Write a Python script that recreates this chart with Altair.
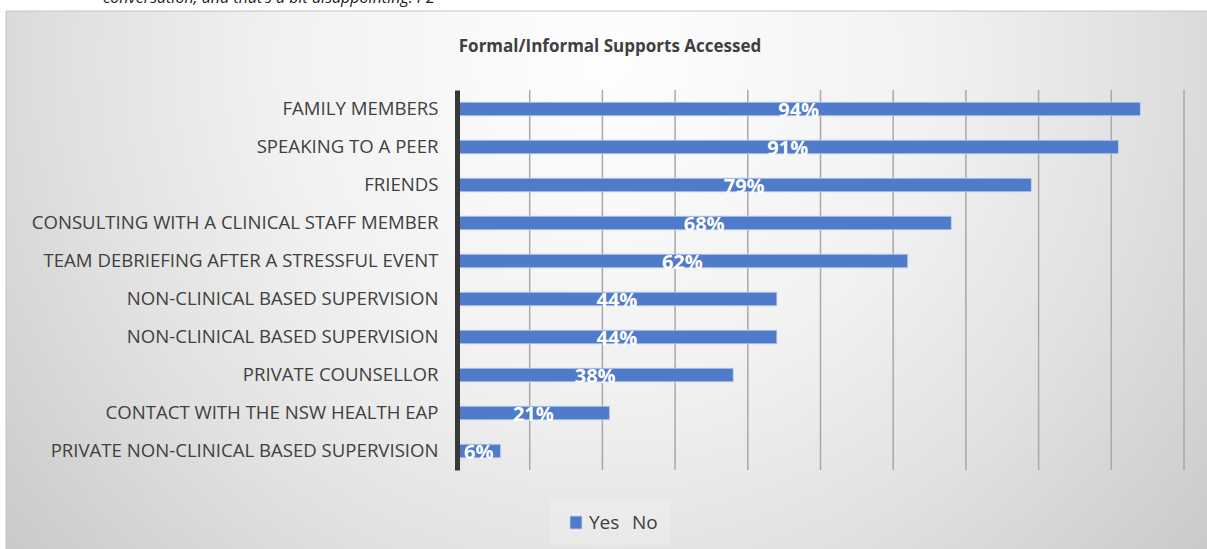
import json
import altair as alt
import pandas as pd

# ---- data ----
categories = [
    "FAMILY MEMBERS\u00a0",
    "SPEAKING TO A PEER",
    "FRIENDS",
    "CONSULTING WITH A CLINICAL  STAFF MEMBER",
    "TEAM DEBRIEFING AFTER A STRESSFUL EVENT",
    "NON-CLINICAL BASED SUPERVISION",
    "NON-CLINICAL BASED SUPERVISION",
    "PRIVATE COUNSELLOR",
    "CONTACT WITH THE NSW HEALTH EAP",
    "PRIVATE NON-CLINICAL BASED SUPERVISION",
]
yes_values = [94, 91, 79, 68, 62, 44, 44, 38, 21, 6]
grid_ticks = [10, 20, 30, 40, 50, 60, 70, 80, 90, 100]
series_names = ["Yes", "No"]
title_text = "Formal/Informal Supports Accessed"
caption_text = "conversation, and that\u2019s a bit disappointing. P2"

df = pd.DataFrame({
    "key": [str(i) for i in range(len(categories))],
    "value": yes_values,
})
grid_df = pd.DataFrame({"tick": grid_ticks})

BLUE = "#4f7bca"
TEXT = "#404040"
FONT = "Open Sans"

W, H = 727, 380
PAD = {"left": 457, "top": 90, "right": 23, "bottom": 79}

label_expr = json.dumps([c.replace("  ", " ") for c in categories]) + "[toNumber(datum.value)]"

one = pd.DataFrame({"a": [0]})
xscale = alt.Scale(domain=[0, 100], nice=False)

# background panel with soft radial gradient
bg = alt.Chart(one).mark_rect(
    color=alt.RadialGradient(
        gradient="radial",
        x1=0.5, y1=0.03, r1=0,
        x2=0.5, y2=0.03, r2=0.6,
        stops=[
            alt.GradientStop(offset=0, color="#fefefe"),
            alt.GradientStop(offset=0.33, color="#f2f2f2"),
            alt.GradientStop(offset=0.55, color="#e1e1e1"),
            alt.GradientStop(offset=0.83, color="#c7c7c7"),
            alt.GradientStop(offset=1, color="#bfbfbf"),
        ],
    ),
    stroke="#c4c4c4",
    strokeWidth=1,
).encode(
    x=alt.value(-451), x2=alt.value(752),
    y=alt.value(-79), y2=alt.value(-79 + 3 * 538),
)

caption = alt.Chart(one).mark_text(
    text=caption_text, font=FONT, fontSize=16, fontStyle="italic",
    color="#222222", align="left", baseline="alphabetic",
).encode(x=alt.value(103 - 457), y=alt.value(3 - 90))

title = alt.Chart(one).mark_text(
    text=title_text, font=FONT, fontSize=17, fontWeight="bold",
    color=TEXT, align="center", baseline="middle",
).encode(x=alt.value(610 - 457), y=alt.value(47 - 90))

grid = alt.Chart(grid_df).mark_rule(color="#a8a8a8", strokeWidth=1.5).encode(
    x=alt.X("tick:Q", scale=xscale, title=None),
    y=alt.value(0), y2=alt.value(H),
)

y_enc = alt.Y(
    "key:N", sort=None, title=None,
    scale=alt.Scale(paddingInner=0.64, paddingOuter=0.32),
    axis=alt.Axis(
        labelExpr=label_expr, labelFont=FONT, labelFontSize=18.6,
        labelColor=TEXT, labelPadding=19, ticks=False,
        domain=True, domainColor="#383838", domainWidth=5,
        grid=False, zindex=2, labelLimit=600,
    ),
)
x_enc = alt.X(
    "value:Q", title=None, scale=xscale,
    axis=alt.Axis(grid=False, labels=False, ticks=False, domain=False, title=None),
)

bars = alt.Chart(df).mark_bar(
    color=BLUE, stroke="#c8d6f0", strokeWidth=0.8,
).encode(x=x_enc, y=y_enc)

labels = alt.Chart(df).transform_calculate(
    mid="datum.value / 2", label="datum.value + '%'"
).mark_text(
    font=FONT, fontSize=20, fontWeight="bold", color="white",
    align="center", baseline="middle", dy=2,
).encode(
    x=alt.X("mid:Q", scale=xscale),
    y=alt.Y("key:N", sort=None),
    text="label:N",
)

# legend
leg_df = pd.DataFrame({"name": series_names})
leg_box = alt.Chart(one).mark_rect(color="#ffffff", opacity=0.18).encode(
    x=alt.value(550 - 457), x2=alt.value(671 - 457),
    y=alt.value(499 - 90), y2=alt.value(545 - 90),
)
leg_sym = alt.Chart(one).mark_rect(color=BLUE, stroke="#c8d6f0", strokeWidth=0.8).encode(
    x=alt.value(570 - 457), x2=alt.value(582 - 457),
    y=alt.value(516 - 90), y2=alt.value(529 - 90),
)
leg_yes = alt.Chart(leg_df).transform_filter("datum.name == 'Yes'").mark_text(
    font=FONT, fontSize=19, color=TEXT, align="left", baseline="middle",
).encode(x=alt.value(589 - 457), y=alt.value(523 - 90), text="name:N")
leg_no = alt.Chart(leg_df).transform_filter("datum.name == 'No'").mark_text(
    font=FONT, fontSize=19, color=TEXT, align="left", baseline="middle",
).encode(x=alt.value(632 - 457), y=alt.value(523 - 90), text="name:N")

chart = alt.layer(
    bg, caption, title, grid, bars, labels, leg_box, leg_sym, leg_yes, leg_no
).resolve_scale(x="shared").properties(
    width=W, height=H,
    autosize=alt.AutoSizeParams(type="none"),
    padding=PAD,
    background="white",
).configure_view(stroke=None)

chart.save("out.html", embed_options={"renderer": "svg", "actions": False})
